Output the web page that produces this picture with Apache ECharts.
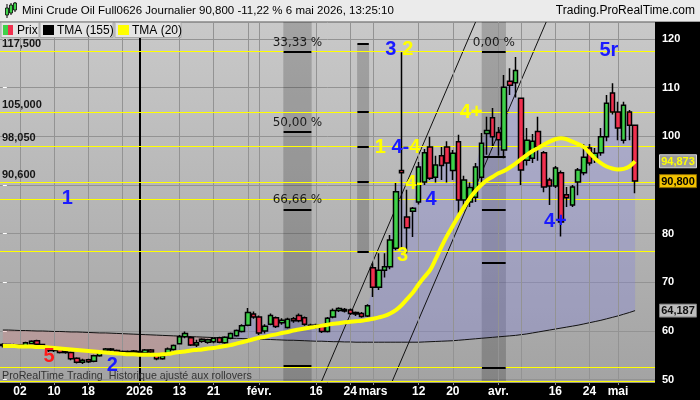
<!DOCTYPE html>
<html>
<head>
<meta charset="utf-8">
<script src="https://cdn.jsdelivr.net/npm/echarts@6.0.0/dist/echarts.min.js"></script>
<style>
html,body{margin:0;padding:0;background:#000;}
#chart{width:700px;height:400px;}
</style>
</head>
<body>
<div id="chart"></div>
<script>
// ---------- DATA ----------
const categories = [
'2025-11-27','2025-11-28',
'2025-12-01','2025-12-02','2025-12-03','2025-12-04','2025-12-05',
'2025-12-08','2025-12-09','2025-12-10','2025-12-11','2025-12-12',
'2025-12-15','2025-12-16','2025-12-17','2025-12-18','2025-12-19',
'2025-12-22','2025-12-23','2025-12-24','2025-12-26',
'2025-12-29','2025-12-30','2025-12-31','2026-01-02',
'2026-01-05','2026-01-06','2026-01-07','2026-01-08','2026-01-09',
'2026-01-12','2026-01-13','2026-01-14','2026-01-15','2026-01-16',
'2026-01-19','2026-01-20','2026-01-21','2026-01-22','2026-01-23',
'2026-01-26','2026-01-27','2026-01-28','2026-01-29','2026-01-30',
'2026-02-02','2026-02-03','2026-02-04','2026-02-05','2026-02-06',
'2026-02-09','2026-02-10','2026-02-11','2026-02-12','2026-02-13',
'2026-02-16','2026-02-17','2026-02-18','2026-02-19','2026-02-20',
'2026-02-23','2026-02-24','2026-02-25','2026-02-26','2026-02-27',
'2026-03-02','2026-03-03','2026-03-04','2026-03-05','2026-03-06',
'2026-03-09','2026-03-10','2026-03-11','2026-03-12','2026-03-13',
'2026-03-16','2026-03-17','2026-03-18','2026-03-19','2026-03-20',
'2026-03-23','2026-03-24','2026-03-25','2026-03-26','2026-03-27',
'2026-03-30','2026-03-31','2026-04-01','2026-04-02',
'2026-04-06','2026-04-07','2026-04-08','2026-04-09','2026-04-10',
'2026-04-13','2026-04-14','2026-04-15','2026-04-16','2026-04-17',
'2026-04-20','2026-04-21','2026-04-22','2026-04-23','2026-04-24',
'2026-04-27','2026-04-28','2026-04-29','2026-04-30',
'2026-05-01','2026-05-04','2026-05-05','2026-05-06',
'2026-05-07','2026-05-08','2026-05-11'
];

const opens = [
57.0,57.2,56.9,57.1,56.9,57.4,58.0,57.2,56.6,56.0,
56.3,55.6,55.6,54.4,53.6,54.1,53.8,54.9,55.9,56.3,
56.0,55.3,55.8,55.6,55.8,55.5,56.1,55.3,54.3,55.2,
56.2,57.4,58.8,58.6,57.1,57.9,57.7,57.8,58.6,57.6,
58.5,59.0,59.9,61.2,63.5,62.9,60.0,61.4,62.7,61.7,
60.7,62.5,63.2,62.7,61.0,61.2,61.2,59.9,62.9,64.2,
64.4,64.3,63.8,63.6,63.1,73.0,69.0,72.5,73.2,77.0,
93.0,83.4,84.6,86.5,90.6,97.8,91.6,96.0,97.8,93.0,
98.9,86.9,86.5,87.5,91.6,100.6,103.8,100.8,97.2,111.3,
111.0,107.8,95.1,95.5,101.0,96.6,91.0,89.8,92.5,88.0,
85.9,90.6,92.5,97.6,95.5,96.6,99.9,108.9,105.0,99.2,
105.0,102.3
];
const closes = [
57.2,56.9,57.1,56.8,57.6,57.9,57.3,56.6,56.0,56.3,
55.6,55.8,54.3,53.6,54.0,53.7,54.9,55.6,56.3,56.1,
55.6,55.8,55.5,55.9,55.5,56.1,55.7,54.3,54.9,56.3,
57.0,58.8,59.5,57.1,57.6,58.3,58.2,58.5,57.7,58.7,
59.5,60.1,61.1,63.8,62.9,59.6,61.0,63.2,60.9,62.2,
62.4,62.1,62.1,61.4,61.2,60.9,59.9,62.6,64.2,64.6,
64.1,63.6,63.5,63.0,65.2,69.0,72.5,73.2,78.7,88.6,
92.5,81.2,85.2,93.7,96.6,91.4,94.1,94.0,94.5,96.5,
86.9,91.0,89.5,93.7,98.6,101.2,99.9,99.3,110.1,110.5,
113.5,93.1,99.2,99.0,97.8,89.6,89.8,93.5,82.4,87.4,
89.6,93.1,95.7,94.5,96.5,99.9,106.8,105.0,101.7,106.4,
102.3,90.8
];
const lows = [
56.6,56.6,56.5,56.5,56.7,57.2,57.0,56.3,55.7,55.7,
55.4,55.3,54.0,53.3,53.2,53.4,53.6,54.7,55.7,55.8,
55.3,55.1,55.2,55.3,55.1,55.3,55.4,54.0,54.1,55.0,
56.0,57.2,58.5,56.9,56.7,57.6,57.4,57.5,57.5,57.4,
58.3,58.8,59.7,61.0,62.5,59.2,59.5,61.2,60.6,61.3,
60.5,61.7,61.8,61.1,60.6,60.5,59.6,59.7,62.6,63.9,
63.8,63.3,63.1,62.7,62.9,67.0,68.4,71.0,72.7,76.6,
77.0,76.0,79.3,86.0,90.0,91.0,90.5,91.0,90.5,91.0,
84.2,84.6,85.5,86.5,90.0,96.2,98.0,96.0,95.5,108.5,
108.0,90.0,94.0,94.5,95.0,88.5,85.9,89.4,79.4,85.5,
85.5,87.9,92.0,94.0,94.5,96.0,99.0,104.5,99.2,98.5,
99.2,88.3
];
const highs = [
57.5,57.4,57.4,57.3,57.8,58.1,58.2,57.4,56.9,56.5,
56.5,56.0,55.8,54.6,54.3,54.3,55.1,55.8,56.5,56.5,
56.2,56.0,56.0,56.1,56.0,56.3,56.3,55.5,55.1,56.6,
57.2,59.2,59.9,58.9,58.2,58.5,58.4,58.7,58.8,58.9,
59.7,60.3,61.4,64.7,64.0,63.2,61.4,63.6,63.0,62.6,
62.7,62.9,63.6,63.0,61.5,61.5,61.4,62.9,64.6,64.9,
64.7,64.6,64.0,63.9,65.5,73.9,76.0,76.0,79.7,90.4,
117.3,89.0,85.5,94.7,97.4,99.9,96.0,97.8,99.0,97.2,
100.3,91.9,90.5,94.5,100.7,104.0,105.8,101.9,112.6,114.0,
116.3,107.8,101.7,100.5,104.0,97.0,91.5,93.9,93.0,89.6,
90.0,93.5,98.4,98.4,97.6,101.7,108.5,110.9,107.1,107.1,
105.4,102.3
];
const tma20 = [
56.9,56.9,56.9,56.8,56.8,56.8,56.7,56.7,56.6,56.5,
56.4,56.3,56.2,56.1,56.0,55.9,55.8,55.7,55.6,55.5,
55.4,55.3,55.2,55.2,55.1,55.1,55.1,55.1,55.2,55.3,
55.5,55.7,55.8,56.0,56.1,56.2,56.4,56.5,56.7,56.9,
57.1,57.4,57.7,58.0,58.3,58.6,58.8,59.1,59.3,59.6,
59.8,60.1,60.3,60.5,60.7,60.9,61.1,61.3,61.5,61.6,
61.8,61.9,62.0,62.1,62.3,62.5,62.8,63.1,63.6,64.3,
65.3,66.6,67.9,69.6,71.1,72.5,74.8,77.3,79.6,81.6,
83.6,85.5,87.3,88.8,90.0,91.0,91.7,92.4,92.9,93.6,
94.4,95.3,96.2,97.0,97.6,98.3,98.9,99.4,99.6,99.4,
98.9,98.4,97.8,96.6,95.4,94.5,93.8,93.4,93.2,93.3,
93.8,94.873
];
const tma155 = [
60.2,60.2,60.15,60.1,60.1,60.05,60.0,60.0,59.95,59.9,
59.9,59.85,59.8,59.8,59.75,59.7,59.65,59.6,59.6,59.55,
59.5,59.45,59.4,59.35,59.3,59.25,59.2,59.15,59.1,59.05,
59.0,58.95,58.9,58.85,58.8,58.75,58.7,58.65,58.6,58.55,
58.5,58.5,58.45,58.4,58.35,58.3,58.3,58.25,58.2,58.15,
58.1,58.1,58.05,58.0,57.95,57.9,57.9,57.85,57.8,57.8,
57.75,57.75,57.7,57.7,57.7,57.7,57.7,57.7,57.7,57.7,
57.7,57.7,57.7,57.7,57.75,57.8,57.85,57.9,57.95,58.0,
58.1,58.2,58.3,58.4,58.5,58.6,58.7,58.8,58.9,59.0,
59.1,59.25,59.4,59.6,59.8,60.0,60.2,60.4,60.6,60.8,
61.0,61.2,61.45,61.7,61.95,62.2,62.5,62.8,63.1,63.45,
63.8,64.187
];

const tickLabels = {
'2025-12-02':'02','2025-12-10':'10','2025-12-18':'18','2026-01-02':'2026',
'2026-01-13':'13','2026-01-21':'21','2026-02-02':'févr.','2026-02-16':'16',
'2026-02-24':'24','2026-03-02':'mars','2026-03-12':'12','2026-03-20':'20',
'2026-04-01':'avr.','2026-04-16':'16','2026-04-24':'24','2026-05-01':'mai'
};
const extraGridDates = ['2025-12-29','2026-01-29','2026-04-08'];
const yearDate = '2026-01-02';

const fibLevels = [117.5, 105.0, 98.05, 90.6, 87.1, 76.4, 52.6, 49.7];
const fibLabels = {117.5:'117,500', 105:'105,000', 98.05:'98,050', 90.6:'90,600'};

// time-band zones, in bar-index units
const bands = [
  {x0:49.24, x1:54.22, y0:null, y1:null, ticks:[117.3,100.9,85.0,52.9], labels:['33,33 %','50,00 %','66,66 %']},
  {x0:62.2,  x1:64.3,  y0:76.3, y1:119.0, ticks:[119.0,105.0,97.8,90.6,76.3], labels:[]},
  {x0:84.07, x1:88.33, y0:null, y1:null, ticks:[117.4,95.8,84.9,74.1,52.5], labels:['0,00 %']}
];
const trendLines = [
  [[55.9,49.5],[83.0,123.5]],
  [[68.3,49.5],[95.4,123.5]]
];
const BLUE='#1a1aff', YEL='#ffff00', RED='#ff1a1a';
const waveLabels = [
  {t:'1', x:11.3, y:87.3, c:BLUE},
  {t:'5', x:8.1, y:54.8, c:RED},
  {t:'2', x:19.2, y:52.9, c:BLUE},
  {t:'3', x:68.1, y:117.9, c:BLUE},
  {t:'2', x:71.1, y:117.9, c:YEL},
  {t:'{y|1} {b|4-}{y|4}', x:69.3, y:97.8, c:YEL},
  {t:'4-', x:72.2, y:90.4, c:YEL},
  {t:'4', x:75.2, y:87.0, c:BLUE},
  {t:'3', x:70.2, y:75.5, c:YEL},
  {t:'4+', x:82.2, y:105.0, c:YEL},
  {t:'5r', x:106.4, y:117.6, c:BLUE},
  {t:'4+', x:97.0, y:82.4, c:BLUE}
];
const lastTags = [
  {v:94.873, txt:'94,873', fg:'#ffff00', bg:'#9c9c9c', bd:'#d8d8d8'},
  {v:90.800, txt:'90,800', fg:'#000000', bg:'#f2c200', bd:'#8a6a00'},
  {v:64.187, txt:'64,187', fg:'#111111', bg:'#bdbdbd', bd:'#7a7a7a'}
];
const titleText = 'Mini Crude Oil Full0626 Journalier 90,800 -11,22 % 6 mai 2026, 13:25:10';

// ---------- BUILD ----------
const chart = echarts.init(document.getElementById('chart'), null, {width:700, height:400});
const N = categories.length;
const idx = d => categories.indexOf(d);
const candle = opens.map((o,i)=>[o, closes[i], lows[i], highs[i]]);
const upDiff = closes.map((c,i)=>Math.max(c - tma155[i], 0));
const dnDiff = closes.map((c,i)=>Math.max(tma155[i] - c, 0));
const FONT = 'Liberation Sans';

const decoLines = [];
Object.keys(tickLabels).concat(extraGridDates).forEach(d=>{
  if (d === yearDate) return;
  decoLines.push({xAxis: idx(d), lineStyle:{color:'#939393', width:1, type:'solid'}});
});
decoLines.push({xAxis: idx(yearDate), lineStyle:{color:'#000', width:2, type:'solid'}});
fibLevels.forEach(v=>{
  const item = {yAxis:v, lineStyle:{color:'#ffff00', width:1, type:'solid'}};
  if (fibLabels[v]) item.label = {show:true, position:'insideStartTop', formatter:fibLabels[v],
     color:'#151515', fontSize:11, fontWeight:'bold', fontFamily:FONT, distance:[2,2]};
  decoLines.push(item);
});
bands.forEach(b=>{
  b.ticks.forEach((v,k)=>{
    const seg = [{coord:[b.x0+0.05, v]}, {coord:[b.x1-0.05, v]}];
    seg[0].lineStyle = {color:'#000', width:2, type:'solid'};
    if (b.labels[k]) seg[0].label = {show:true, position:'insideMiddleTop', formatter:b.labels[k],
        color:'#1a1a1a', fontSize:12, fontFamily:'DejaVu Sans', distance:3};
    decoLines.push(seg);
  });
});
const bandAreas = bands.map(b => b.y0 == null
  ? [{xAxis:b.x0}, {xAxis:b.x1}]
  : [{coord:[b.x0,b.y0]}, {coord:[b.x1,b.y1]}]);

const richStyles = {
  y:{color:YEL, fontSize:20, fontWeight:'bold', fontFamily:FONT},
  b:{color:BLUE, fontSize:20, fontWeight:'bold', fontFamily:FONT}
};

const series = [
  {type:'line', name:'deco', xAxisIndex:1, data:[], z:1, silent:true,
   markArea:{silent:true, itemStyle:{color:'rgba(0,0,0,0.19)'}, data:bandAreas},
   markLine:{silent:true, symbol:['none','none'], label:{show:false}, data:decoLines}},
  {type:'line', name:'baseUp', data:tma155, stack:'up', symbol:'none', lineStyle:{width:0}, z:2, silent:true},
  {type:'line', name:'fillUp', data:upDiff, stack:'up', symbol:'none', lineStyle:{width:0},
   areaStyle:{color:'rgba(130,130,225,0.32)', opacity:1}, z:2, silent:true},
  {type:'line', name:'baseDn', data:closes, stack:'dn', symbol:'none', lineStyle:{width:0}, z:2, silent:true},
  {type:'line', name:'fillDn', data:dnDiff, stack:'dn', symbol:'none', lineStyle:{width:0},
   areaStyle:{color:'rgba(215,125,125,0.30)', opacity:1}, z:2, silent:true},
  {type:'line', name:'TMA (155)', data:tma155, symbol:'none', lineStyle:{color:'#111', width:1}, z:3, silent:true},
];
trendLines.forEach(t=>{
  series.push({type:'line', xAxisIndex:1, data:t, symbol:'none', lineStyle:{color:'#111', width:1}, z:3, silent:true});
});
series.push(
  {type:'candlestick', name:'Prix', data:candle, barWidth:5, z:5, silent:true,
   itemStyle:{color:'#3fd14a', color0:'#f0304f', borderColor:'#000', borderColor0:'#000', borderWidth:1.5}},
  {type:'line', name:'TMA (20)', data:tma20, symbol:'none', smooth:0.3,
   lineStyle:{color:'#ffff00', width:4}, z:6, silent:true},
  {type:'scatter', name:'labels', xAxisIndex:1, z:10, silent:true, symbolSize:1,
   itemStyle:{color:'rgba(0,0,0,0)', opacity:1},
   data: waveLabels.map(w=>({value:[w.x,w.y],
      label:{show:true, position:'inside', overflow:'none', formatter:()=>w.t, opacity:1,
        color:w.c, fontSize:20, fontWeight:'bold', fontFamily:FONT, rich:richStyles}}))}
);

const option = {
  animation:false,
  backgroundColor:'#000',
  grid:{left:0, right:45, top:22, bottom:18, show:true, borderWidth:0,
        backgroundColor:{type:'linear', x:0, y:0, x2:0, y2:1,
          colorStops:[{offset:0,color:'#c9c9c9'},{offset:1,color:'#a3a3a3'}]}},
  xAxis:[
    {type:'category', data:categories, boundaryGap:true,
     axisLine:{show:false},
     axisTick:{show:true, alignWithLabel:true, length:3, lineStyle:{color:'#8a8a8a'},
               interval:(i,v)=>tickLabels[v]!==undefined},
     axisLabel:{interval:(i,v)=>tickLabels[v]!==undefined, formatter:(v)=>tickLabels[v]||'',
                color:'#fff', fontWeight:'bold', fontSize:12, fontFamily:FONT, margin:4},
     splitLine:{show:false}},
    {type:'value', min:-0.5, max:N-0.5, show:false}
  ],
  yAxis:{type:'value', position:'right', min:49.52, max:123.49, splitNumber:7, scale:true,
     axisLine:{show:false},
     axisTick:{show:true, length:4, lineStyle:{color:'#fff'}},
     axisLabel:{color:'#fff', fontWeight:'bold', fontSize:11, fontFamily:FONT, margin:7,
        showMinLabel:false, showMaxLabel:false,
        formatter:v=>{const r=Math.round(v); return (Math.abs(v-r)<1e-6 && r%10===0 && r!==90)?String(r):'';}},
     splitLine:{show:true, lineStyle:{color:'#939393', width:1}}},
  series: series
};
chart.setOption(option);

// static graphics (frame, title, legend) + last-value tags placed through the y scale
const gfx = [
  {type:'rect', z:100, shape:{x:0,y:0,width:700,height:22}, style:{fill:'#ebebeb'}},
  {type:'line', z:100, shape:{x1:0,y1:21.5,x2:700,y2:21.5}, style:{stroke:'#a0a0a0', lineWidth:1}},
  {type:'line', z:101, shape:{x1:7,y1:4,x2:7,y2:18}, style:{stroke:'#000', lineWidth:1}},
  {type:'rect', z:102, shape:{x:5.5,y:8,width:3,height:7}, style:{fill:'#3fd14a', stroke:'#000', lineWidth:0.8}},
  {type:'line', z:101, shape:{x1:11,y1:3,x2:11,y2:15}, style:{stroke:'#000', lineWidth:1}},
  {type:'rect', z:102, shape:{x:9.5,y:5,width:3,height:8}, style:{fill:'#3fd14a', stroke:'#000', lineWidth:0.8}},
  {type:'line', z:101, shape:{x1:15,y1:2,x2:15,y2:12}, style:{stroke:'#000', lineWidth:1}},
  {type:'rect', z:102, shape:{x:13.5,y:3,width:3,height:7}, style:{fill:'#3fd14a', stroke:'#000', lineWidth:0.8}},
  {type:'text', z:101, x:22, y:11, style:{text:titleText, font:'11.5px "Liberation Sans"', fill:'#000',
      textAlign:'left', textVerticalAlign:'middle', align:'left', verticalAlign:'middle'}},
  {type:'text', z:101, x:695, y:11, style:{text:'Trading.ProRealTime.com', font:'12px "Liberation Sans"', fill:'#000',
      textAlign:'right', textVerticalAlign:'middle', align:'right', verticalAlign:'middle'}},
  {type:'rect', z:100, shape:{x:1,y:22.5,width:38,height:15}, style:{fill:'#e4e4e4', stroke:'#a8a8a8', lineWidth:1}},
  {type:'rect', z:101, shape:{x:3,y:25,width:5,height:10}, style:{fill:'#3fd14a'}},
  {type:'rect', z:101, shape:{x:8,y:25,width:5,height:10}, style:{fill:'#f0304f'}},
  {type:'text', z:101, x:17, y:30.5, style:{text:'Prix', font:'12px "Liberation Sans"', fill:'#000',
      textVerticalAlign:'middle', verticalAlign:'middle'}},
  {type:'rect', z:100, shape:{x:40,y:22.5,width:73,height:15}, style:{fill:'#e4e4e4', stroke:'#a8a8a8', lineWidth:1}},
  {type:'rect', z:101, shape:{x:43,y:25,width:11,height:10}, style:{fill:'#000'}},
  {type:'text', z:101, x:57, y:30.5, style:{text:'TMA (155)', font:'12px "Liberation Sans"', fill:'#000',
      textVerticalAlign:'middle', verticalAlign:'middle'}},
  {type:'rect', z:100, shape:{x:115,y:22.5,width:66,height:15}, style:{fill:'#e4e4e4', stroke:'#a8a8a8', lineWidth:1}},
  {type:'rect', z:101, shape:{x:118,y:25,width:11,height:10}, style:{fill:'#ffff00'}},
  {type:'text', z:101, x:132, y:30.5, style:{text:'TMA (20)', font:'12px "Liberation Sans"', fill:'#000',
      textVerticalAlign:'middle', verticalAlign:'middle'}},
  {type:'text', z:50, x:2, y:376.5, style:{text:'ProRealTime Trading  Historique ajusté aux rollovers',
      font:'10.7px "Liberation Sans"', fill:'#333', textVerticalAlign:'middle', verticalAlign:'middle'}}
];
lastTags.forEach(t=>{
  const py = chart.convertToPixel({yAxisIndex:0}, t.v);
  gfx.push({type:'rect', z:110, shape:{x:659.5, y:py-6.5, width:37, height:13},
            style:{fill:t.bg, stroke:t.bd, lineWidth:1}});
  gfx.push({type:'text', z:111, x:678, y:py+0.5, style:{text:t.txt, font:'bold 11px "Liberation Sans"', fill:t.fg,
            textAlign:'center', textVerticalAlign:'middle', align:'center', verticalAlign:'middle'}});
});
chart.setOption({graphic: gfx});
</script>
</body>
</html>
